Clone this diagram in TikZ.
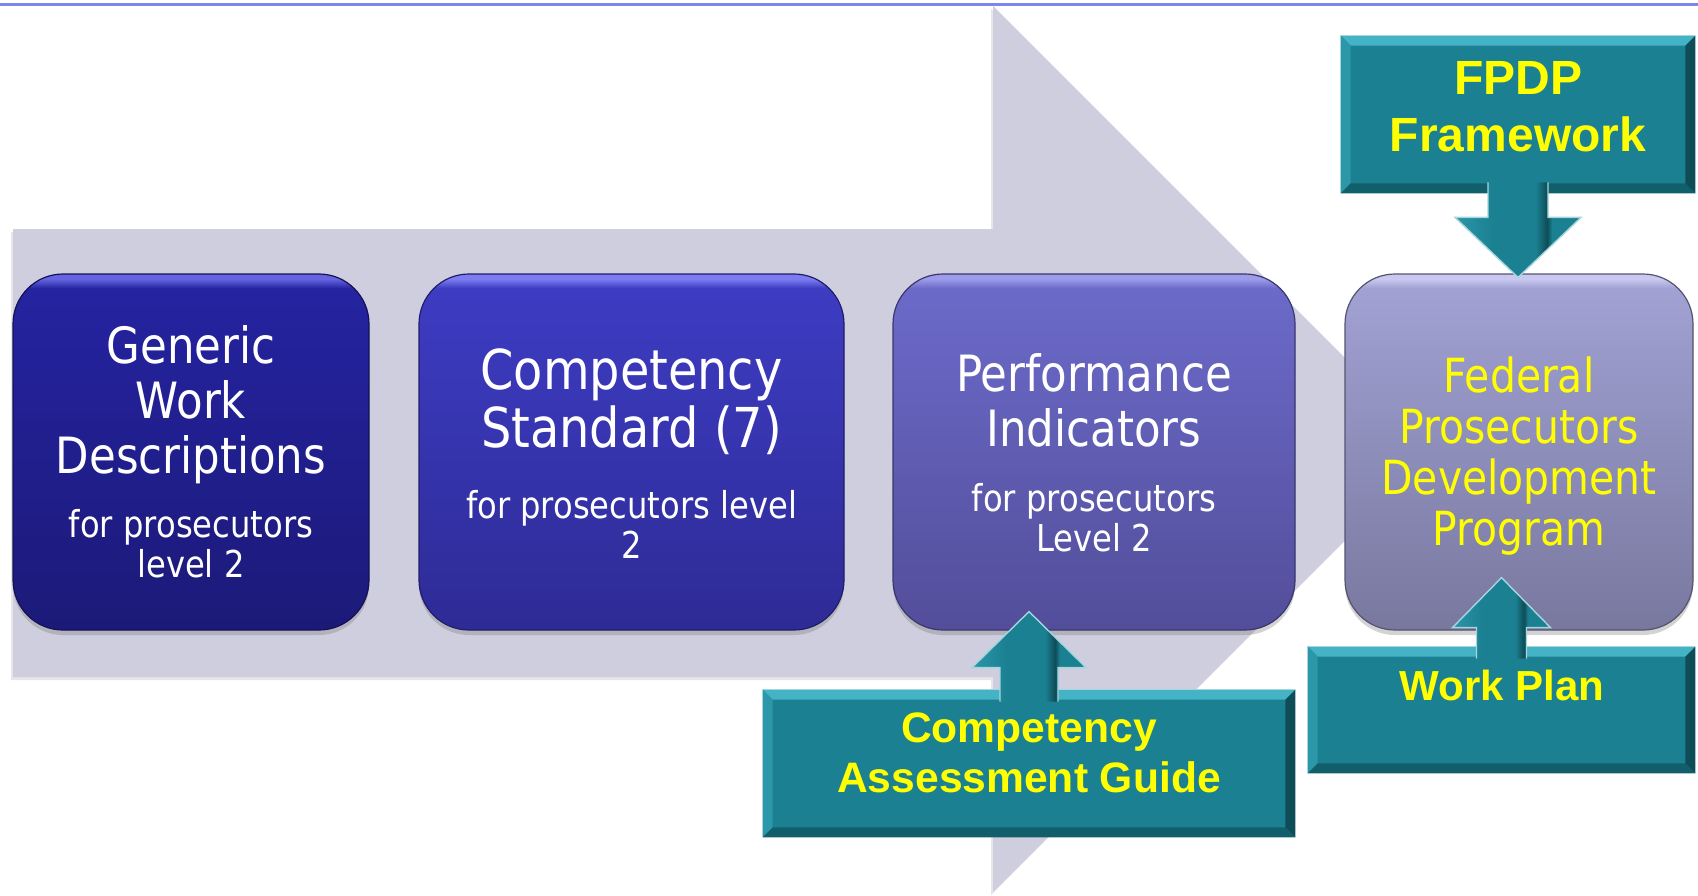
\documentclass[tikz,border=0pt]{standalone}
\usepackage{fontspec}
\newfontfamily\boxfont{DejaVu Sans}[FakeStretch=0.87]
\newfontfamily\tealfont{Liberation Sans}
\usetikzlibrary{calc,shadows}

\definecolor{rule}{HTML}{7B86F0}
\definecolor{flow}{HTML}{CECEDF}
\definecolor{tealface}{HTML}{1B8092}
\definecolor{tealtop}{HTML}{45B3C6}
\definecolor{tealleft}{HTML}{2B97A9}
\definecolor{tealbot}{HTML}{125F6C}
\definecolor{tealright}{HTML}{0E4C57}
\definecolor{tealrim}{HTML}{A5D6DD}
\definecolor{hiyellow}{HTML}{FFFF00}
% box fills: bottom / top / rim
\definecolor{aBot}{HTML}{1C1A78}\definecolor{aTop}{HTML}{2523A0}\definecolor{aRim}{HTML}{6464E2}
\definecolor{bBot}{HTML}{2E2B96}\definecolor{bTop}{HTML}{3D3CC2}\definecolor{bRim}{HTML}{7C7CF2}
\definecolor{cBot}{HTML}{534E9A}\definecolor{cTop}{HTML}{6B6AC9}\definecolor{cRim}{HTML}{9C9CEA}
\definecolor{dBot}{HTML}{78789F}\definecolor{dTop}{HTML}{A1A1D3}\definecolor{dRim}{HTML}{C8C8F0}

\pgfdeclareverticalshading{shadeA}{100bp}{color(0bp)=(aBot); color(25bp)=(aBot); color(73bp)=(aTop); color(74.3bp)=(aRim); color(100bp)=(aRim)}
\pgfdeclareverticalshading{shadeB}{100bp}{color(0bp)=(bBot); color(25bp)=(bBot); color(73bp)=(bTop); color(74.3bp)=(bRim); color(100bp)=(bRim)}
\pgfdeclareverticalshading{shadeC}{100bp}{color(0bp)=(cBot); color(25bp)=(cBot); color(73bp)=(cTop); color(74.3bp)=(cRim); color(100bp)=(cRim)}
\pgfdeclareverticalshading{shadeD}{100bp}{color(0bp)=(dBot); color(25bp)=(dBot); color(73bp)=(dTop); color(74.3bp)=(dRim); color(100bp)=(dRim)}
% block arrows: lit on the left, dark edge right of the shaft
\pgfdeclarehorizontalshading{arrowshade}{100bp}{color(0bp)=(tealleft); color(25bp)=(tealleft); color(40bp)=(tealface); color(57bp)=(tealface); color(61.5bp)=(tealright); color(63.5bp)=(tealface); color(100bp)=(tealface)}

% raised edges round a teal box
\newcommand{\bevel}[1]{%
  \fill[tealtop] (#1.north west) -- (#1.north east) -- ($(#1.north east)+(-10,10)$) -- ($(#1.north west)+(10,10)$) -- cycle;
  \fill[tealleft] (#1.north west) -- ($(#1.north west)+(10,10)$) -- ($(#1.south west)+(10,-10)$) -- (#1.south west) -- cycle;
  \fill[tealbot] (#1.south west) -- ($(#1.south west)+(10,-10)$) -- ($(#1.south east)+(-10,-10)$) -- (#1.south east) -- cycle;
  \fill[tealright] (#1.north east) -- ($(#1.north east)+(-10,10)$) -- ($(#1.south east)+(-10,-10)$) -- (#1.south east) -- cycle;
  \draw[tealrim, line width=0.6pt] (#1.south west) -- (#1.north west) -- (#1.north east);
}

\begin{document}
\begin{tikzpicture}[x=0.5pt,y=-0.5pt,
  gbox/.style={rounded corners=25pt, minimum height=178pt, inner sep=0pt, shade, line width=0.6pt,
    drop shadow={shadow xshift=0pt, shadow yshift=-2.5pt, opacity=0.35}},
  ttl/.style={text=white, align=center, inner sep=0pt},
  sub/.style={ttl, font=\boxfont\fontsize{18.5}{20}\selectfont},
  tbox/.style={fill=tealface, inner sep=0pt},
  tlbl/.style={text=hiyellow, align=center, inner sep=0pt},
  blk/.style={shade, shading=arrowshade, draw=tealrim, line width=0.7pt, line join=miter}]

\useasboundingbox (0,0) rectangle (1698,895);
\clip (0,0) rectangle (1698,895);

\draw[rule, line width=1.5pt] (0,4) -- (1698,4);

% big arrow behind the boxes
\fill[flow, drop shadow={shadow xshift=-1pt, shadow yshift=-1.5pt, opacity=0.2}]
  (13,229) -- (993,229) -- (993,6) -- (1436,449) -- (993,892) -- (993,677) -- (13,677) -- cycle;

% the four stages
\node[gbox, shading=shadeA, draw=aBot!70!black, minimum width=178pt] (g1) at (191,452) {};
\node[gbox, shading=shadeB, draw=bBot!70!black, minimum width=212.5pt] (g2) at (631.5,452) {};
\node[gbox, shading=shadeC, draw=cBot!70!black, minimum width=201pt] (g3) at (1094,452) {};
\node[gbox, shading=shadeD, draw=dBot!70!black, minimum width=174pt] (g4) at (1519,452) {};

\node[ttl, font=\boxfont\fontsize{25}{27.5}\selectfont] (gt1) at (191,405) {Generic\\Work\\Descriptions};
\node[sub] (gs1) at (191,544) {for prosecutors\\level 2};
\node[ttl, font=\boxfont\fontsize{27.5}{29}\selectfont] (gt2) at (631.5,402) {Competency\\Standard (7)};
\node[sub] (gs2) at (631.5,524) {for prosecutors level\\2};
\node[ttl, font=\boxfont\fontsize{25}{27.5}\selectfont] (gt3) at (1094,400.5) {Performance\\Indicators};
\node[sub] (gs3) at (1094,518) {for prosecutors\\Level 2};
\node[ttl, text=hiyellow, font=\boxfont\fontsize{23.5}{25.5}\selectfont] (gt4) at (1519,456) {Federal\\Prosecutors\\Development\\Program};

% teal inputs
\node[tbox, minimum width=177pt, minimum height=78.5pt] (fw) at (1518,114.5) {};
\bevel{fw}
\node[tlbl, font=\tealfont\bfseries\fontsize{24}{28.5}\selectfont] (ft) at (1518,106.5) {FPDP\\Framework};

\node[tbox, minimum width=266pt, minimum height=73.5pt] (cag) at (1029,763.5) {};
\bevel{cag}
\node[tlbl, font=\tealfont\bfseries\fontsize{21.3}{25}\selectfont] (ct) at (1029,752.5) {Competency\\Assessment Guide};

\node[tbox, minimum width=193.5pt, minimum height=63pt] (wp) at (1501.5,710) {};
\bevel{wp}
\node[tlbl, anchor=base, font=\tealfont\bfseries\fontsize{21}{25}\selectfont] (wt) at (1502,700) {Work Plan};

% block arrows
\path[blk] ($(fw.south)+(-30,-11)$) -- ($(fw.south)+(-30,24)$) -- ($(fw.south)+(-63,24)$) -- ($(fw.south)+(0,84)$)
  -- ($(fw.south)+(63,24)$) -- ($(fw.south)+(30,24)$) -- ($(fw.south)+(30,-11)$);
\path[blk] ($(cag.north)+(-29,12)$) -- ($(cag.north)+(-29,-22)$) -- ($(cag.north)+(-57,-22)$) -- ($(cag.north)+(0,-78)$)
  -- ($(cag.north)+(57,-22)$) -- ($(cag.north)+(29,-22)$) -- ($(cag.north)+(29,12)$);
\path[blk] ($(wp.north)+(-25,12)$) -- ($(wp.north)+(-25,-19)$) -- ($(wp.north)+(-49,-19)$) -- ($(wp.north)+(0,-69)$)
  -- ($(wp.north)+(49,-19)$) -- ($(wp.north)+(25,-19)$) -- ($(wp.north)+(25,12)$);
\end{tikzpicture}
\end{document}
